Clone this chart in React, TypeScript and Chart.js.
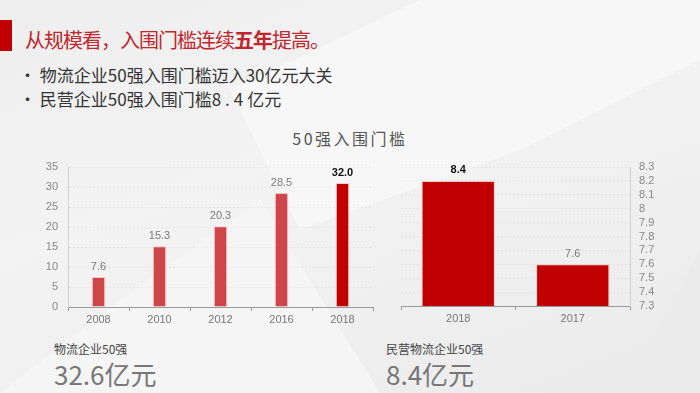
import React, { useEffect, useRef } from "react";
import { Chart, registerables } from "chart.js";

Chart.register(...registerables);

// ---- data ----
const scaleYears = ["2008", "2010", "2012", "2016", "2018"];
const scaleBarValues = [7.5, 15.2, 20.2, 28.5, 31.0];
const scaleValueLabels = ["7.6", "15.3", "20.3", "28.5", "32.0"];
const scaleHighlight = 4;

const privYears = ["2018", "2017"];
const privBarValues = [8.2, 7.6];
const privValueLabels = ["8.4", "7.6"];
const privHighlight = 0;

const leftAxis = { min: 0, max: 35, step: 5 };
const rightAxis = { min: 7.3, max: 8.3, step: 0.1 };

const FONT = "'Liberation Sans', Arial, sans-serif";
const CJK = "'Noto Sans CJK SC', 'Noto Sans', sans-serif";

function labelPlugin(labels: string[], highlight: number) {
  return {
    id: "valueLabels",
    afterDatasetsDraw(chart: any) {
      const ctx = chart.ctx;
      const meta = chart.getDatasetMeta(0);
      ctx.save();
      ctx.textAlign = "center";
      ctx.textBaseline = "bottom";
      meta.data.forEach((bar: any, i: number) => {
        const hl = i === highlight;
        ctx.font = (hl ? "bold " : "") + "11px " + FONT;
        ctx.fillStyle = hl ? "#111111" : "#7a7a7a";
        ctx.fillText(labels[i], bar.x, bar.y - 5);
      });
      ctx.restore();
    },
  };
}

function LeftChart() {
  const ref = useRef<HTMLCanvasElement>(null);
  useEffect(() => {
    const chart = new Chart(ref.current!, {
      type: "bar",
      data: {
        labels: scaleYears,
        datasets: [
          {
            data: scaleBarValues,
            backgroundColor: scaleYears.map((_, i) => (i === scaleHighlight ? "#C00000" : "#CE4649")),
            borderColor: "rgba(255,170,170,0.6)",
            borderWidth: 1,
            categoryPercentage: 1,
            barPercentage: 0.22,
          },
        ],
      },
      options: {
        responsive: false,
        animation: false,
        devicePixelRatio: 1,
        layout: { padding: { top: 17, right: 7, left: 0, bottom: 0 } },
        plugins: { legend: { display: false }, tooltip: { enabled: false } },
        scales: {
          x: {
            afterFit: (s: any) => { s.height = 23; },
            grid: { display: true, drawOnChartArea: false, drawTicks: true, tickLength: 4, color: "#999" },
            border: { display: true, color: "#999", width: 1 },
            ticks: { color: "#777", font: { size: 11, family: FONT }, padding: 2 },
          },
          y: {
            min: leftAxis.min,
            max: leftAxis.max,
            afterFit: (s: any) => { s.width = 68; },
            grid: { color: "rgba(0,0,0,0.055)", drawTicks: false },
            border: { display: true, color: "#d0d0d0", dash: [2, 2] },
            ticks: { stepSize: leftAxis.step, autoSkip: false, color: "#888", font: { size: 11, family: FONT }, padding: 10 },
          },
        },
      },
      plugins: [labelPlugin(scaleValueLabels, scaleHighlight)],
    } as any);
    return () => chart.destroy();
  }, []);
  return (
    <canvas ref={ref} width={380} height={180} style={{ position: "absolute", left: 0, top: 150, width: 380, height: 180 }} />
  );
}

function RightChart() {
  const ref = useRef<HTMLCanvasElement>(null);
  useEffect(() => {
    const chart = new Chart(ref.current!, {
      type: "bar",
      data: {
        labels: privYears,
        datasets: [
          {
            data: privBarValues,
            backgroundColor: "#C00000",
            borderColor: "rgba(255,170,170,0.6)",
            borderWidth: 1,
            categoryPercentage: 1,
            barPercentage: 0.64,
          },
        ],
      },
      options: {
        responsive: false,
        animation: false,
        devicePixelRatio: 1,
        layout: { padding: { top: 17, right: 0, left: 21, bottom: 0 } },
        plugins: { legend: { display: false }, tooltip: { enabled: false } },
        scales: {
          x: {
            afterFit: (s: any) => { s.height = 24; },
            grid: { display: true, drawOnChartArea: false, drawTicks: true, tickLength: 4, color: "#999" },
            border: { display: true, color: "#999", width: 1 },
            ticks: { color: "#777", font: { size: 11, family: FONT }, padding: 2 },
          },
          y: {
            position: "right",
            min: rightAxis.min,
            max: rightAxis.max,
            afterFit: (s: any) => { s.width = 70; },
            grid: { color: "rgba(0,0,0,0.055)", drawTicks: false },
            border: { display: true, color: "#d0d0d0", dash: [2, 2] },
            ticks: {
              stepSize: rightAxis.step,
              autoSkip: false,
              color: "#888",
              font: { size: 11, family: FONT },
              padding: 9,
              callback: (v: any) => String(parseFloat(Number(v).toFixed(1))),
            },
          },
        },
      },
      plugins: [labelPlugin(privValueLabels, privHighlight)],
    } as any);
    return () => chart.destroy();
  }, []);
  return (
    <canvas ref={ref} width={320} height={180} style={{ position: "absolute", left: 380, top: 150, width: 320, height: 180 }} />
  );
}

export default function App() {
  const abs = (s: React.CSSProperties): React.CSSProperties => ({ position: "absolute", ...s });
  return (
    <div
      style={{
        position: "fixed",
        left: 0,
        top: 0,
        width: 700,
        height: 393,
        overflow: "hidden",
        background: "linear-gradient(160deg, #eeeeee 0%, #f3f3f3 40%, #efefef 70%, #ebebeb 100%)",
        fontFamily: CJK,
      }}
    >
      {/* background facets */}
      <div style={abs({ left: 0, top: 0, width: 700, height: 393, background: "#f7f7f7", clipPath: "polygon(230px 90px, 420px 0px, 700px 0px, 700px 60px, 520px 150px, 300px 230px)" })} />
      <div style={abs({ left: 0, top: 0, width: 700, height: 393, background: "#f5f5f5", clipPath: "polygon(0px 393px, 120px 300px, 260px 200px, 380px 393px)" })} />
      <div style={abs({ left: 0, top: 0, width: 700, height: 393, background: "#ececec", clipPath: "polygon(620px 393px, 700px 250px, 700px 393px)" })} />

      {/* title */}
      <div style={abs({ left: 0, top: 20, width: 12, height: 31, background: "#C00000" })} />
      <div style={abs({ left: 25, top: 26, fontSize: 20, lineHeight: "28px", color: "#C0272D", letterSpacing: -1, whiteSpace: "nowrap" })}>
        从规模看，入围门槛连续<b>五年</b>提高。
      </div>

      {/* bullets */}
      <div style={abs({ left: 19, top: 63, fontSize: 17, lineHeight: "24px", color: "#333", whiteSpace: "nowrap", letterSpacing: 0 })}>
        • 物流企业50强入围门槛迈入30亿元大关
      </div>
      <div style={abs({ left: 19, top: 87, fontSize: 17, lineHeight: "24px", color: "#333", whiteSpace: "nowrap", letterSpacing: 0 })}>
        • 民营企业50强入围门槛<span style={{ letterSpacing: 4 }}>8.4</span>亿元
      </div>

      {/* chart title */}
      <div style={abs({ left: 250, top: 127, width: 200, textAlign: "center", fontSize: 16, lineHeight: "22px", color: "#555", letterSpacing: 2.5, whiteSpace: "nowrap" })}>
        50强入围门槛
      </div>

      <LeftChart />
      <RightChart />

      {/* bottom captions */}
      <div style={abs({ left: 54, top: 340, fontSize: 12, lineHeight: "18px", color: "#444", whiteSpace: "nowrap" })}>物流企业50强</div>
      <div style={abs({ left: 54, top: 357, fontSize: 26, lineHeight: "34px", color: "#777", whiteSpace: "nowrap" })}>32.6亿元</div>
      <div style={abs({ left: 386, top: 340, fontSize: 12, lineHeight: "18px", color: "#444", whiteSpace: "nowrap" })}>民营物流企业50强</div>
      <div style={abs({ left: 386, top: 357, fontSize: 26, lineHeight: "34px", color: "#777", whiteSpace: "nowrap" })}>8.4亿元</div>
    </div>
  );
}
